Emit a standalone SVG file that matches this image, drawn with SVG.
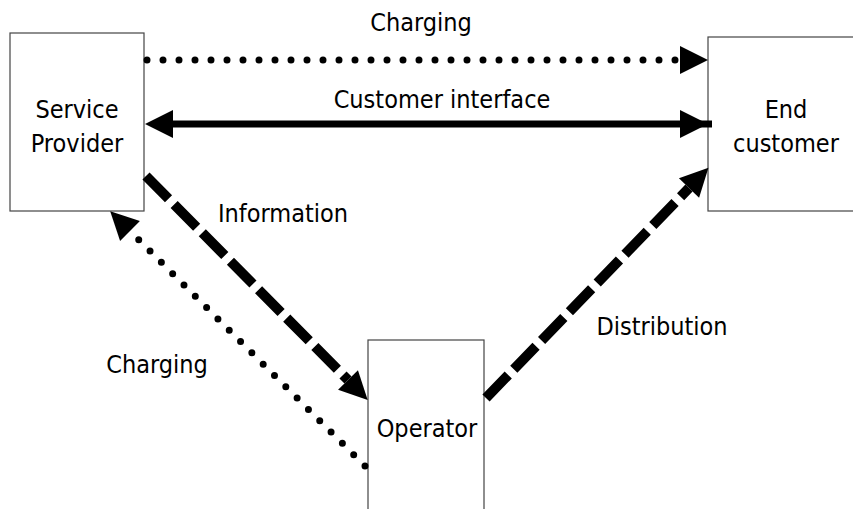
<svg xmlns="http://www.w3.org/2000/svg" width="853" height="509" viewBox="0 0 853 509">
<style>
.box{fill:#fff;stroke:#444;stroke-width:1.2}
.lbl{font-family:"DejaVu Sans Condensed","Liberation Sans",sans-serif;font-size:25px;fill:#000;text-anchor:middle}
.dot{fill:none;stroke:#000;stroke-width:7;stroke-linecap:round;stroke-dasharray:0 16}
.dash{fill:none;stroke:#000;stroke-width:10;stroke-dasharray:32 8}
.solid{fill:none;stroke:#000;stroke-width:7}
</style>
<defs>
<marker id="ah" markerUnits="userSpaceOnUse" markerWidth="30" markerHeight="30" refX="0" refY="0" orient="auto-start-reverse" overflow="visible">
<path d="M0,-14 L28,0 L0,14 z" fill="#000"/>
</marker>
</defs>
<rect width="853" height="509" fill="#fff"/>
<g id="node-service-provider">
<rect class="box" x="10" y="33" width="134" height="178"/>
<text class="lbl" x="77" y="118">Service</text>
<text class="lbl" x="77" y="152">Provider</text>
</g>
<g id="node-end-customer">
<rect class="box" x="708" y="37" width="160" height="174"/>
<text class="lbl" x="786" y="118">End</text>
<text class="lbl" x="786" y="152">customer</text>
</g>
<g id="node-operator">
<rect class="box" x="368" y="340" width="116" height="180"/>
<text class="lbl" x="427" y="437">Operator</text>
</g>
<g id="connectors">
<path class="dot" d="M147,60 L680,60" marker-end="url(#ah)"/>
<path class="solid" d="M173,124 L680,124" marker-start="url(#ah)" marker-end="url(#ah)"/>
<path class="solid" d="M680,124 L712,124"/>
<path class="dash" d="M146,176 L348,380" marker-end="url(#ah)"/>
<path class="dot" d="M365,466 L130,231" marker-end="url(#ah)"/>
<path class="dash" d="M486,398 L689,188" marker-end="url(#ah)"/>
</g>
<g id="labels">
<text class="lbl" x="421" y="31">Charging</text>
<text class="lbl" x="442" y="108">Customer interface</text>
<text class="lbl" x="283" y="222">Information</text>
<text class="lbl" x="157" y="373">Charging</text>
<text class="lbl" x="662" y="335">Distribution</text>
</g>
</svg>
